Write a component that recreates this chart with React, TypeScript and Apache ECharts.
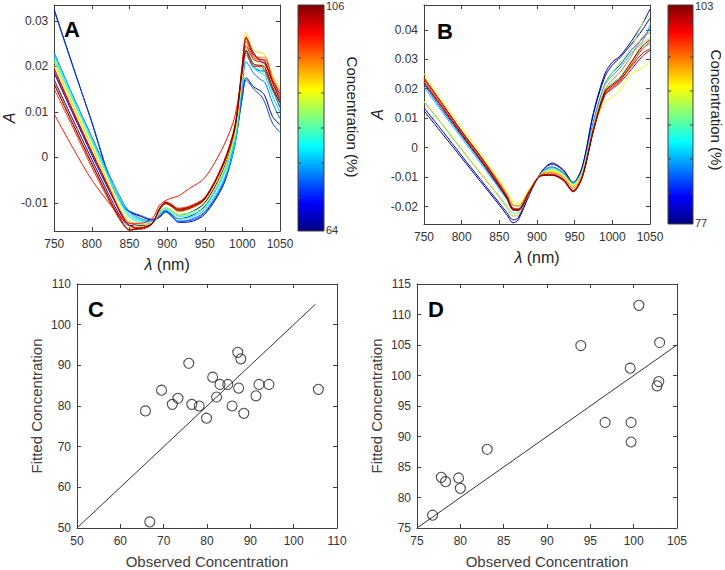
import React, { useEffect, useRef } from "react";
import * as echarts from "echarts";

const FONT = '"Liberation Sans", Arial, Helvetica, sans-serif';
const AXC = "#404040";

// ---------- Panel A: spectra ----------
const wavelengthsA = [750, 775, 800, 825, 840, 850, 865, 880, 890, 898, 905, 915, 930, 950, 975, 990, 1000, 1005, 1015, 1025, 1030, 1040, 1050];
const concA = [64, 72, 66, 68, 74, 78, 80, 84, 88, 92, 96, 99, 100, 102, 104, 106];
const spectraA = [
  [0.0325, 0.020, 0.0076, -0.0055, -0.0105, -0.012, -0.013, -0.0138, -0.0132, -0.012, -0.0128, -0.0143, -0.0142, -0.0125, -0.006, 0.003, 0.0135, 0.0175, 0.0155, 0.0145, 0.0135, 0.009, 0.0072],
  [0.0322, 0.0198, 0.0078, -0.0052, -0.0102, -0.0118, -0.0128, -0.0136, -0.013, -0.0118, -0.0125, -0.014, -0.0139, -0.0122, -0.0055, 0.0035, 0.0132, 0.017, 0.015, 0.0135, 0.012, 0.0075, 0.0055],
  [0.0185, 0.0095, 0.0005, -0.008, -0.0125, -0.0145, -0.015, -0.0145, -0.012, -0.0112, -0.0118, -0.0128, -0.0122, -0.010, -0.0025, 0.006, 0.018, 0.0235, 0.020, 0.019, 0.019, 0.015, 0.011],
  [0.017, 0.0082, -0.0005, -0.009, -0.0135, -0.015, -0.0148, -0.0145, -0.0125, -0.0118, -0.0125, -0.0135, -0.013, -0.0108, -0.0035, 0.005, 0.0195, 0.0265, 0.023, 0.021, 0.0205, 0.017, 0.014],
  [0.023, 0.0135, 0.0045, -0.0045, -0.0095, -0.012, -0.0135, -0.014, -0.0128, -0.012, -0.0128, -0.0142, -0.0137, -0.012, -0.0055, 0.0025, 0.0155, 0.021, 0.0185, 0.017, 0.0165, 0.012, 0.0085],
  [0.0225, 0.013, 0.004, -0.005, -0.010, -0.0125, -0.0138, -0.0142, -0.0125, -0.0115, -0.0122, -0.0135, -0.0132, -0.0115, -0.005, 0.003, 0.0165, 0.0225, 0.0195, 0.0185, 0.018, 0.0135, 0.010],
  [0.0215, 0.0125, 0.0035, -0.0055, -0.0105, -0.013, -0.014, -0.0142, -0.0122, -0.0112, -0.0118, -0.013, -0.0127, -0.011, -0.004, 0.004, 0.0175, 0.0235, 0.020, 0.019, 0.0185, 0.0145, 0.0115],
  [0.022, 0.0128, 0.0035, -0.0055, -0.0108, -0.0132, -0.0143, -0.0143, -0.012, -0.011, -0.0115, -0.0125, -0.0122, -0.0105, -0.0035, 0.0048, 0.018, 0.024, 0.0205, 0.0195, 0.019, 0.0155, 0.013],
  [0.020, 0.011, 0.002, -0.007, -0.012, -0.014, -0.0148, -0.0145, -0.0122, -0.0112, -0.0118, -0.0128, -0.0124, -0.0105, -0.003, 0.005, 0.0185, 0.025, 0.0215, 0.0205, 0.020, 0.0165, 0.0135],
  [0.021, 0.0115, 0.0025, -0.0068, -0.0122, -0.0145, -0.0152, -0.0146, -0.0115, -0.0102, -0.0108, -0.012, -0.0114, -0.0095, -0.002, 0.006, 0.020, 0.0275, 0.0235, 0.023, 0.0225, 0.018, 0.015],
  [0.0165, 0.0075, -0.0012, -0.0095, -0.014, -0.0158, -0.0155, -0.0147, -0.0112, -0.010, -0.0105, -0.0115, -0.011, -0.009, -0.0015, 0.0065, 0.020, 0.0265, 0.0225, 0.022, 0.022, 0.0175, 0.0145],
  [0.015, 0.0065, -0.0022, -0.0102, -0.0145, -0.016, -0.0155, -0.0146, -0.0112, -0.0098, -0.0102, -0.0112, -0.0107, -0.0088, -0.001, 0.007, 0.0205, 0.0255, 0.022, 0.0215, 0.0215, 0.017, 0.0135],
  [0.0095, 0.002, -0.005, -0.0105, -0.0135, -0.0145, -0.0145, -0.0135, -0.0105, -0.0095, -0.009, -0.0085, -0.0068, -0.0045, 0.0025, 0.009, 0.019, 0.023, 0.020, 0.020, 0.019, 0.015, 0.012],
  [0.019, 0.0098, 0.001, -0.0078, -0.013, -0.015, -0.0155, -0.0146, -0.0114, -0.0101, -0.0106, -0.0116, -0.0112, -0.0092, -0.0015, 0.0062, 0.0195, 0.0245, 0.0215, 0.021, 0.0208, 0.0165, 0.013],
  [0.0195, 0.0102, 0.0012, -0.0075, -0.0128, -0.015, -0.0158, -0.0147, -0.0115, -0.0102, -0.0107, -0.0118, -0.0112, -0.0092, -0.0012, 0.0065, 0.0205, 0.0262, 0.0225, 0.0215, 0.0212, 0.0165, 0.0125],
  [0.016, 0.0072, -0.0015, -0.0098, -0.0142, -0.016, -0.0156, -0.0146, -0.0113, -0.0099, -0.0104, -0.0114, -0.0109, -0.009, -0.0013, 0.0068, 0.0195, 0.0235, 0.0205, 0.0202, 0.0198, 0.0155, 0.012],
];
const concRangeA = [64, 106];
const yTicksA = [-0.01, 0, 0.01, 0.02, 0.03];

// ---------- Panel B: spectra ----------
const wavelengthsB = [750, 775, 800, 825, 850, 860, 868, 875, 890, 905, 920, 935, 948, 960, 975, 990, 1000, 1010, 1025, 1040, 1050];
const concB = [77, 79, 82, 85, 88, 91, 93, 95, 97, 99, 101, 102, 103];
const spectraB = [
  [0.0125, 0.0045, -0.0035, -0.0115, -0.0195, -0.0228, -0.0255, -0.0245, -0.016, -0.0085, -0.0052, -0.0075, -0.0118, -0.0065, 0.012, 0.025, 0.029, 0.031, 0.036, 0.042, 0.047],
  [0.0135, 0.0055, -0.0027, -0.0108, -0.0188, -0.022, -0.0245, -0.0238, -0.0155, -0.0085, -0.0056, -0.0078, -0.012, -0.0068, 0.0115, 0.024, 0.028, 0.0305, 0.035, 0.040, 0.044],
  [0.0215, 0.0125, 0.004, -0.0045, -0.0135, -0.0172, -0.0205, -0.0208, -0.0148, -0.0088, -0.0065, -0.0085, -0.0118, -0.0075, 0.009, 0.0215, 0.0255, 0.028, 0.033, 0.037, 0.0405],
  [0.0205, 0.0118, 0.0033, -0.0052, -0.014, -0.0176, -0.0208, -0.0207, -0.0146, -0.0088, -0.0068, -0.0088, -0.012, -0.0078, 0.0085, 0.021, 0.0245, 0.027, 0.032, 0.036, 0.0415],
  [0.0155, 0.0075, -0.0008, -0.0088, -0.0165, -0.0198, -0.0222, -0.022, -0.0152, -0.009, -0.0072, -0.009, -0.0123, -0.008, 0.0078, 0.019, 0.022, 0.024, 0.029, 0.034, 0.036],
  [0.0222, 0.0133, 0.0048, -0.0037, -0.0125, -0.0162, -0.0195, -0.0196, -0.0142, -0.0089, -0.0074, -0.0092, -0.0125, -0.0082, 0.0075, 0.021, 0.0255, 0.029, 0.034, 0.042, 0.045],
  [0.0252, 0.0158, 0.0068, -0.0018, -0.011, -0.0148, -0.0185, -0.019, -0.014, -0.009, -0.0078, -0.0095, -0.0128, -0.0088, 0.0065, 0.0155, 0.017, 0.0195, 0.025, 0.027, 0.0295],
  [0.0158, 0.0078, -0.0005, -0.0086, -0.0168, -0.0205, -0.0232, -0.0228, -0.0154, -0.009, -0.0082, -0.0098, -0.0132, -0.009, 0.007, 0.0185, 0.021, 0.023, 0.0285, 0.0355, 0.037],
  [0.0235, 0.0145, 0.0056, -0.0028, -0.0118, -0.0158, -0.0195, -0.0198, -0.0143, -0.0092, -0.0085, -0.0102, -0.0138, -0.0095, 0.0068, 0.0195, 0.023, 0.0255, 0.031, 0.0375, 0.039],
  [0.0232, 0.0142, 0.0052, -0.0032, -0.0125, -0.0165, -0.0205, -0.0208, -0.0148, -0.0094, -0.009, -0.0108, -0.0145, -0.0098, 0.0062, 0.018, 0.0205, 0.0225, 0.028, 0.0335, 0.0355],
  [0.0225, 0.0136, 0.0047, -0.0038, -0.013, -0.017, -0.021, -0.0212, -0.015, -0.0095, -0.0092, -0.011, -0.0148, -0.010, 0.006, 0.0185, 0.021, 0.023, 0.0275, 0.032, 0.0335],
  [0.0238, 0.0147, 0.0056, -0.003, -0.0124, -0.0166, -0.0208, -0.021, -0.015, -0.0096, -0.0094, -0.0112, -0.015, -0.0102, 0.0058, 0.0178, 0.020, 0.022, 0.0265, 0.031, 0.033],
  [0.022, 0.0132, 0.0044, -0.0042, -0.0133, -0.0172, -0.0212, -0.0213, -0.0151, -0.0096, -0.0092, -0.0108, -0.0147, -0.0099, 0.006, 0.019, 0.0215, 0.0235, 0.029, 0.0345, 0.0365],
];
const concRangeB = [77, 103];
const yTicksB = [-0.02, -0.01, 0, 0.01, 0.02, 0.03, 0.04];

// ---------- Panel C: scatter ----------
const observedC = [65.8, 66.8, 69.5, 72.0, 73.3, 75.8, 76.5, 78.2, 79.9, 81.3, 82.2, 83.0, 84.8, 85.8, 87.1, 87.3, 87.8, 88.5, 91.3, 92.0, 94.3, 105.7];
const fittedC = [78.8, 51.5, 83.9, 80.4, 81.9, 90.5, 80.4, 80.0, 77.0, 87.1, 82.2, 85.3, 85.3, 80.0, 93.2, 84.4, 91.6, 78.2, 82.5, 85.3, 85.3, 84.1];
const lineC = [50, 105];

// ---------- Panel D: scatter ----------
const observedD = [76.8, 77.8, 78.3, 79.8, 80.0, 83.1, 93.9, 96.7, 99.6, 99.7, 99.7, 100.6, 102.7, 102.9, 103.0];
const fittedD = [77.1, 83.3, 82.6, 83.2, 81.5, 87.9, 104.9, 92.3, 101.2, 92.3, 89.1, 111.5, 98.3, 99.0, 105.4];
const lineD = [75, 105];

function jet(t: number): string {
  const c = (v: number) => Math.max(0, Math.min(1, v));
  const r = c(1.5 - Math.abs(4 * t - 3));
  const g = c(1.5 - Math.abs(4 * t - 2));
  const b = c(1.5 - Math.abs(4 * t - 1));
  return `rgb(${Math.round(r * 255)},${Math.round(g * 255)},${Math.round(b * 255)})`;
}

const grids = [
  { left: 50, top: 5, width: 230, height: 226 },
  { left: 424, top: 5, width: 226, height: 219 },
  { left: 77, top: 284, width: 260, height: 245 },
  { left: 417, top: 284, width: 260, height: 245 },
];

function axisPair(g: number, dim: "x" | "y", cfg: any) {
  const common = {
    type: "value",
    gridIndex: g,
    min: cfg.min,
    max: cfg.max,
    splitLine: { show: false },
    axisLine: { show: true, onZero: false, lineStyle: { color: AXC, width: 1 } },
  };
  const tickCfg: any = { show: true, inside: true, length: 4, lineStyle: { color: AXC } };
  const labelCfg: any = {
    color: "#333",
    fontSize: 12,
    fontFamily: FONT,
    margin: dim === "x" ? 7 : 6,
    formatter: (v: number) => String(Math.round(v * 1000) / 1000),
  };
  if (cfg.customValues) {
    tickCfg.customValues = cfg.customValues;
    labelCfg.customValues = cfg.customValues;
  }
  const main: any = {
    ...common,
    position: dim === "x" ? "bottom" : "left",
    axisTick: tickCfg,
    axisLabel: labelCfg,
    name: cfg.name,
    nameLocation: "middle",
    nameGap: cfg.nameGap,
    nameRotate: dim === "y" ? 90 : 0,
    nameTextStyle: cfg.nameTextStyle,
  };
  if (cfg.interval !== undefined) main.interval = cfg.interval;
  const other: any = {
    ...common,
    position: dim === "x" ? "top" : "right",
    axisTick: tickCfg,
    axisLabel: { show: false },
  };
  if (cfg.interval !== undefined) other.interval = cfg.interval;
  return [main, other];
}

function colorbar(x: number, y: number, w: number, h: number, top: number, bottom: number, ticks: number[]) {
  const stops = [
    { offset: 0, color: "rgb(128,0,0)" },
    { offset: 0.125, color: "rgb(255,0,0)" },
    { offset: 0.375, color: "rgb(255,255,0)" },
    { offset: 0.625, color: "rgb(0,255,255)" },
    { offset: 0.875, color: "rgb(0,0,255)" },
    { offset: 1, color: "rgb(0,0,128)" },
  ];
  const els: any[] = [
    {
      type: "rect",
      shape: { x, y, width: w, height: h },
      style: { fill: new echarts.graphic.LinearGradient(0, 0, 0, 1, stops), stroke: AXC, lineWidth: 1 },
    },
    { type: "text", x: x + w + 2, y: y - 5, style: { text: String(top), fontSize: 11, fontFamily: FONT, fill: "#333" } },
    { type: "text", x: x + w + 2, y: y + h - 7, style: { text: String(bottom), fontSize: 11, fontFamily: FONT, fill: "#333" } },
  ];
  ticks.forEach((ty) => {
    els.push({ type: "line", shape: { x1: x, y1: ty, x2: x + 3, y2: ty }, style: { stroke: AXC, lineWidth: 1 } });
    els.push({ type: "line", shape: { x1: x + w - 3, y1: ty, x2: x + w, y2: ty }, style: { stroke: AXC, lineWidth: 1 } });
  });
  return els;
}

export default function App() {
  const ref = useRef<HTMLDivElement>(null);
  useEffect(() => {
    document.body.style.margin = "0";
    const chart = echarts.init(ref.current!, null, { renderer: "svg" });

    const lamName = { fontSize: 16, color: "#222", fontFamily: FONT, rich: { i: { fontStyle: "italic", fontSize: 16, fontFamily: FONT, color: "#222" } } };
    const aName = { fontSize: 16, color: "#222", fontFamily: FONT, fontStyle: "italic" };
    const concName = { fontSize: 15, color: "#404040", fontFamily: FONT };

    const xAxes = [
      ...axisPair(0, "x", { min: 750, max: 1050, interval: 50, name: "{i|λ} (nm)", nameGap: 25, nameTextStyle: lamName }),
      ...axisPair(1, "x", { min: 750, max: 1050, interval: 50, name: "{i|λ} (nm)", nameGap: 25, nameTextStyle: lamName }),
      ...axisPair(2, "x", { min: 50, max: 110, interval: 10, name: "Observed Concentration", nameGap: 26, nameTextStyle: concName }),
      ...axisPair(3, "x", { min: 75, max: 105, interval: 5, name: "Observed Concentration", nameGap: 26, nameTextStyle: concName }),
    ];
    const yAxes = [
      ...axisPair(0, "y", { min: -0.0162, max: 0.0335, customValues: yTicksA, name: "A", nameGap: 37, nameTextStyle: aName }),
      ...axisPair(1, "y", { min: -0.0259, max: 0.0484, customValues: yTicksB, name: "A", nameGap: 39, nameTextStyle: aName }),
      ...axisPair(2, "y", { min: 50, max: 110, interval: 10, name: "Fitted Concentration", nameGap: 33, nameTextStyle: concName }),
      ...axisPair(3, "y", { min: 75, max: 115, interval: 5, name: "Fitted Concentration", nameGap: 33, nameTextStyle: concName }),
    ];

    const orderA = concA.map((c, i) => i).sort((a, b) => concA[a] - concA[b]);
    const seriesA = orderA.map((i) => ({
      type: "line",
      xAxisIndex: 0,
      yAxisIndex: 0,
      data: wavelengthsA.map((w, j) => [w, spectraA[i][j]]),
      showSymbol: false,
      smooth: 0.3,
      lineStyle: { width: 1, color: jet((concA[i] - concRangeA[0]) / (concRangeA[1] - concRangeA[0])) },
      silent: true,
    }));
    const orderB = concB.map((c, i) => i).sort((a, b) => concB[a] - concB[b]);
    const seriesB = orderB.map((i) => ({
      type: "line",
      xAxisIndex: 2,
      yAxisIndex: 2,
      data: wavelengthsB.map((w, j) => [w, spectraB[i][j]]),
      showSymbol: false,
      smooth: 0.3,
      lineStyle: { width: 1, color: jet((concB[i] - concRangeB[0]) / (concRangeB[1] - concRangeB[0])) },
      silent: true,
    }));

    const scatterStyle = { color: "rgba(0,0,0,0)", borderColor: "#222", borderWidth: 1.1 };

    const option: any = {
      animation: false,
      backgroundColor: "#fff",
      textStyle: { fontFamily: FONT },
      grid: grids.map((g) => ({ ...g, containLabel: false })),
      xAxis: xAxes,
      yAxis: yAxes,
      series: [
        ...seriesA,
        ...seriesB,
        {
          type: "line",
          xAxisIndex: 4,
          yAxisIndex: 4,
          data: lineC.map((v) => [v, v]),
          showSymbol: false,
          lineStyle: { color: "#333", width: 1 },
        },
        {
          type: "scatter",
          xAxisIndex: 4,
          yAxisIndex: 4,
          data: observedC.map((x, i) => [x, fittedC[i]]),
          symbol: "circle",
          symbolSize: 10,
          itemStyle: scatterStyle,
        },
        {
          type: "line",
          xAxisIndex: 6,
          yAxisIndex: 6,
          data: lineD.map((v) => [v, v]),
          showSymbol: false,
          lineStyle: { color: "#333", width: 1 },
        },
        {
          type: "scatter",
          xAxisIndex: 6,
          yAxisIndex: 6,
          data: observedD.map((x, i) => [x, fittedD[i]]),
          symbol: "circle",
          symbolSize: 10,
          itemStyle: scatterStyle,
        },
      ],
      graphic: [
        ...colorbar(298, 5, 26, 226, concRangeA[1], concRangeA[0], [23, 58, 93, 128, 163, 198]),
        ...colorbar(668, 5, 25, 219, concRangeB[1], concRangeB[0], [23, 57, 91, 125, 159, 193]),
        { type: "text", x: 352, y: 117, rotation: -Math.PI / 2, style: { text: "Concentration (%)", fontSize: 15, fontFamily: FONT, fill: "#222", align: "center", verticalAlign: "middle" } },
        { type: "text", x: 716, y: 110, rotation: -Math.PI / 2, style: { text: "Concentration (%)", fontSize: 15, fontFamily: FONT, fill: "#222", align: "center", verticalAlign: "middle" } },
        { type: "text", x: 64, y: 18, style: { text: "A", fontSize: 22, fontWeight: "bold", fontFamily: FONT, fill: "#000" } },
        { type: "text", x: 437, y: 20, style: { text: "B", fontSize: 22, fontWeight: "bold", fontFamily: FONT, fill: "#000" } },
        { type: "text", x: 88, y: 298, style: { text: "C", fontSize: 22, fontWeight: "bold", fontFamily: FONT, fill: "#000" } },
        { type: "text", x: 428, y: 298, style: { text: "D", fontSize: 22, fontWeight: "bold", fontFamily: FONT, fill: "#000" } },
      ],
    };
    chart.setOption(option);
    return () => chart.dispose();
  }, []);
  return <div ref={ref} style={{ width: 725, height: 570, position: "fixed", left: 0, top: 0 }} />;
}
